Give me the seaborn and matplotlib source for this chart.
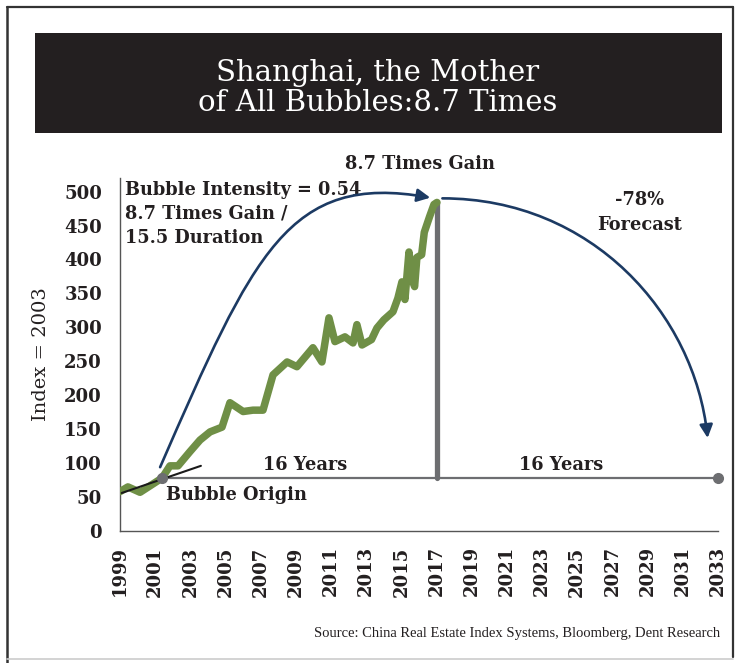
import matplotlib
matplotlib.use("Agg")
import matplotlib.pyplot as plt
from matplotlib.lines import Line2D
from matplotlib.patches import Rectangle, FancyArrowPatch
from matplotlib.path import Path
import pandas as pd
import seaborn as sns

# Shanghai home price index (2003 basis), decimal years
years = [1999.0, 1999.45, 2000.14, 2001.39, 2001.84, 2002.3, 2002.98, 2003.55,
         2004.12, 2004.8, 2005.25, 2006.0, 2006.56, 2007.13, 2007.7, 2008.5,
         2009.06, 2009.97, 2010.48, 2010.88, 2011.22, 2011.79, 2012.25, 2012.47,
         2012.76, 2013.3, 2013.61, 2014.0, 2014.52, 2014.8, 2015.03, 2015.2,
         2015.43, 2015.62, 2015.75, 2015.88, 2016.15, 2016.3, 2016.6, 2016.85,
         2017.02]
index_vals = [58, 65, 57, 78, 96, 96, 117, 134,
              146, 153, 189, 176, 178, 178, 230, 249,
              242, 270, 249, 314, 279, 286, 277, 304,
              274, 282, 299, 311, 323, 343, 367, 341,
              411, 370, 360, 403, 407, 440, 463, 481,
              484]

origin_year, origin_val = 2001.39, 78
peak_year, peak_val = 2017.05, 484
end_year = 2033
trend_x = [1999.1, 2003.6]
trend_y = [56, 96]

x_ticks = list(range(1999, 2034, 2))
y_ticks = list(range(0, 501, 50))

ink = "#231f20"
green = "#6f8f46"
grey = "#6d6e71"
navy = "#1c3a63"

sns.set_theme(style="white")
plt.rcParams["font.family"] = ["DejaVu Serif"]

fig = plt.figure(figsize=(7.4, 6.63), dpi=100)
W, H = 740, 663

def fx(px):
    return px / W

def fy(py):
    return 1 - py / H

# page frame
fig.add_artist(Line2D([fx(7), fx(7)], [fy(7), fy(663)], color="#333333", lw=1.8))
fig.add_artist(Line2D([fx(7), fx(733)], [fy(7), fy(7)], color="#333333", lw=1.6))
fig.add_artist(Line2D([fx(733), fx(733)], [fy(7), fy(657)], color="#333333", lw=1.6))
fig.add_artist(Line2D([fx(7), fx(733)], [fy(659), fy(659)], color="#cccccc", lw=1.2))

# title banner
fig.add_artist(Rectangle((fx(35), fy(133)), (722 - 35) / W, 100 / H,
                         facecolor=ink, edgecolor="none", transform=fig.transFigure))
fig.text(fx(378), fy(88), "Shanghai, the Mother\nof All Bubbles:8.7 Times",
         ha="center", va="center", color="white", fontsize=21, linespacing=1.08)

ax = fig.add_axes([fx(120), fy(531), (718 - 120) / W, (531 - 178) / H])
df = pd.DataFrame({"year": years, "index": index_vals})
sns.lineplot(data=df, x="year", y="index", ax=ax, color=green, lw=5.4,
             solid_joinstyle="round", solid_capstyle="round", zorder=4)

ax.set_xlim(1999, 2033)
ax.set_ylim(0, 520)
ax.set_xticks(x_ticks)
ax.set_yticks(y_ticks)
ax.set_xticklabels([str(t) for t in x_ticks], rotation=90, fontweight="bold",
                   fontsize=13, color=ink)
ax.set_yticklabels([str(t) for t in y_ticks], fontweight="bold", fontsize=13, color=ink)
ax.tick_params(axis="both", length=0)
ax.tick_params(axis="y", pad=13)
ax.tick_params(axis="x", pad=11)
ax.set_xlabel("")
ax.set_ylabel("Index = 2003", fontsize=14, color=ink, labelpad=10)
for side in ("top", "right"):
    ax.spines[side].set_visible(False)
for side in ("left", "bottom"):
    ax.spines[side].set_color("#555555")
    ax.spines[side].set_linewidth(1.0)

# 16-year baseline from the bubble origin, and the peak marker
ax.plot([origin_year, end_year], [origin_val, origin_val], color=grey, lw=1.6,
        zorder=3, clip_on=False)
ax.plot([peak_year, peak_year], [origin_val, peak_val], color=grey, lw=3.8,
        zorder=3, solid_capstyle="round")
ax.plot([origin_year, end_year], [origin_val, origin_val], "o", color=grey,
        ms=7, zorder=6, clip_on=False)
ax.plot(trend_x, trend_y, color="#1a1a1a", lw=1.5, zorder=5)

# curved arrows: rise into the peak and the forecast decline
rise = Path([(2001.28, 94), (2006.6, 410), (2008.6, 528), (2016.64, 491)],
            [Path.MOVETO, Path.CURVE4, Path.CURVE4, Path.CURVE4])
fall = Path([(2017.33, 490), (2025.86, 490), (2031.67, 319), (2032.41, 137)],
            [Path.MOVETO, Path.CURVE4, Path.CURVE4, Path.CURVE4])
for p in (rise, fall):
    arr = FancyArrowPatch(path=p, arrowstyle="-|>,head_length=0.6,head_width=0.3",
                          mutation_scale=13, color=navy, lw=1.9, zorder=5,
                          clip_on=False, transform=ax.transData)
    ax.add_patch(arr)

bold = dict(fontweight="bold", fontsize=12.8, color=ink, clip_on=False)
ax.text(1999.28, 515, "Bubble Intensity = 0.54\n8.7 Times Gain /\n15.5 Duration",
        ha="left", va="top", linespacing=1.4, **bold)
ax.text(2016.05, 540, "8.7 Times Gain", ha="center", va="center", **bold)
ax.text(2028.56, 469, "-78%\nForecast", ha="center", va="center",
        linespacing=1.45, **bold)
ax.text(2009.5, 97, "16 Years", ha="center", va="center", **bold)
ax.text(2024.1, 97, "16 Years", ha="center", va="center", **bold)
ax.text(2001.6, 53, "Bubble Origin", ha="left", va="center", **bold)

fig.text(fx(720), fy(634), "Source: China Real Estate Index Systems, Bloomberg, Dent Research",
         ha="right", va="center", fontsize=10.5, color=ink,
         family=["Liberation Serif"])

fig.savefig("out.png", dpi=100)
